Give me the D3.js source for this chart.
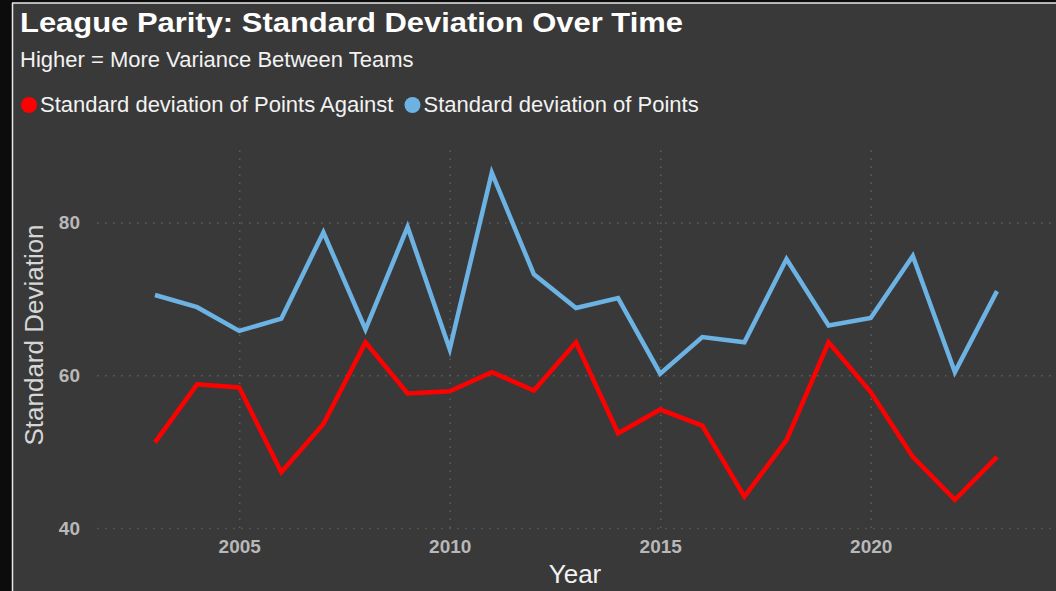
<!DOCTYPE html>
<html>
<head>
<meta charset="utf-8">
<script src="https://cdn.jsdelivr.net/npm/d3@7"></script>
<style>
  html, body { margin: 0; padding: 0; background: #0c0c0c; }
  svg { display: block; font-family: "Liberation Sans", Arial, sans-serif; }
</style>
</head>
<body>
<svg id="chart" width="1056" height="591"></svg>
<script>
// data
var years = [2003,2004,2005,2006,2007,2008,2009,2010,2011,2012,2013,2014,2015,2016,2017,2018,2019,2020,2021,2022,2023];
var pointsAgainstSD = [51.2,58.8,58.4,47.3,53.6,64.3,57.6,57.9,60.4,58.0,64.3,52.4,55.5,53.4,44.1,51.5,64.3,57.8,49.3,43.7,49.3];
var pointsSD = [70.5,68.9,65.8,67.4,78.7,66.0,79.4,63.4,86.5,73.2,68.8,70.1,60.2,65.0,64.3,75.2,66.5,67.5,75.6,60.4,71.0];
var yTicks = [40,60,80];
var xTicks = [2005,2010,2015,2020];
var seriesNames = ['Standard deviation of Points Against','Standard deviation of Points'];
var seriesColors = ['#ff0000','#6cb2e3'];

var W = 1056, H = 591;
var svg = d3.select('#chart');

// panel
svg.append('rect').attr('x',0).attr('y',0).attr('width',W).attr('height',H).attr('fill','#0c0c0c');
svg.append('rect').attr('x',12).attr('y',3).attr('width',W-12).attr('height',H-3).attr('fill','#393939');
svg.append('line').attr('x1',12.5).attr('x2',12.5).attr('y1',3).attr('y2',H).attr('stroke','#e8e8e8').attr('stroke-width',1.5);
svg.append('line').attr('x1',12).attr('x2',W).attr('y1',3).attr('y2',3).attr('stroke','#e8e8e8').attr('stroke-width',1.5);

// titles
svg.append('text').attr('x',20).attr('y',32)
    .attr('font-size',28).attr('font-weight','bold').attr('fill','#ffffff')
    .attr('textLength',663).attr('lengthAdjust','spacingAndGlyphs')
    .text('League Parity: Standard Deviation Over Time');
svg.append('text').attr('x',20).attr('y',67)
    .attr('font-size',22).attr('fill','#f2f2f2')
    .text('Higher = More Variance Between Teams');

// legend
var lx = 29;
seriesNames.forEach(function(name,i){
    svg.append('circle').attr('cx',lx).attr('cy',105).attr('r',8).attr('fill',seriesColors[i]);
    var t = svg.append('text').attr('x',lx+11).attr('y',112)
        .attr('font-size',22).attr('fill','#f2f2f2').text(name);
    lx = lx + 11 + t.node().getComputedTextLength() + 19;
});

// scales
var plotLeft = 97, plotRight = W, plotTop = 146, plotBottom = 528;
var x = d3.scaleLinear().domain([2003,2023]).range([155,997]);
var y = d3.scaleLinear().domain([40,90]).range([plotBottom,plotTop]);

// y axis + horizontal grid
var yAxis = svg.append('g').attr('transform','translate(' + plotLeft + ',0)')
    .call(d3.axisLeft(y).tickValues(yTicks).tickSize(-(plotRight-plotLeft)).tickPadding(17).tickFormat(d3.format('d')));
yAxis.select('.domain').remove();
yAxis.selectAll('.tick line').attr('stroke','#5e5e5e').attr('stroke-width',1.5).attr('stroke-dasharray','1.5,6.5');
yAxis.selectAll('.tick text').attr('font-size',19).attr('font-weight','bold').attr('fill','#b8b8b8')
    .attr('font-family','"Liberation Sans", Arial, sans-serif');

// x axis + vertical grid
var xAxis = svg.append('g').attr('transform','translate(0,' + plotBottom + ')')
    .call(d3.axisBottom(x).tickValues(xTicks).tickSize(-(plotBottom-plotTop)).tickPadding(12).tickFormat(d3.format('d')));
xAxis.select('.domain').remove();
xAxis.selectAll('.tick line').attr('stroke','#5e5e5e').attr('stroke-width',1.5).attr('stroke-dasharray','1.5,6.5');
xAxis.selectAll('.tick text').attr('font-size',19).attr('font-weight','bold').attr('fill','#b8b8b8')
    .attr('font-family','"Liberation Sans", Arial, sans-serif');

// axis titles
svg.append('text').attr('transform','translate(43,335) rotate(-90)')
    .attr('text-anchor','middle').attr('font-size',26).attr('fill','#d6d6d6')
    .text('Standard Deviation');
svg.append('text').attr('x',575).attr('y',583)
    .attr('text-anchor','middle').attr('font-size',26).attr('fill','#f2f2f2')
    .text('Year');

// lines
var line = d3.line()
    .x(function(d){ return x(d[0]); })
    .y(function(d){ return y(d[1]); });

[pointsSD, pointsAgainstSD].forEach(function(vals,k){
    var color = k === 0 ? seriesColors[1] : seriesColors[0];
    svg.append('path')
        .datum(years.map(function(yr,i){ return [yr, vals[i]]; }))
        .attr('d',line)
        .attr('fill','none')
        .attr('stroke',color)
        .attr('stroke-width',4.5)
        .attr('stroke-linejoin','miter');
});
</script>
</body>
</html>
